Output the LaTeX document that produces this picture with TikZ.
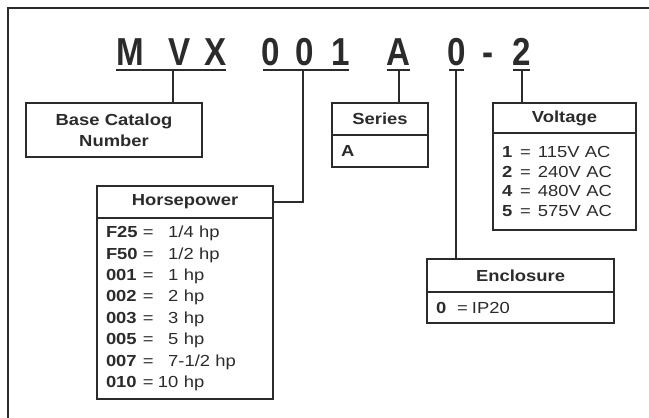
\documentclass[tikz,border=0pt]{standalone}
\usepackage{fontspec}
\setmainfont{Liberation Sans}[FakeStretch=1.15]
\newfontfamily\codefont{Liberation Sans}[FakeStretch=0.85]
\usepackage{tikz}

\definecolor{inkgray}{HTML}{2B2B2B}

\newcommand{\hprow}[2]{\makebox[37pt][l]{\bfseries #1}\makebox[15pt][l]{=}#2}
\newcommand{\voltrow}[2]{\makebox[18pt][l]{\bfseries #1}\makebox[18pt][l]{=}#2}

\tikzset{
    code/.style={anchor=base, inner sep=0pt, text=inkgray, font=\codefont\fontsize{39}{39}\selectfont\bfseries},
    uline/.style={draw=inkgray, line width=2.8pt},
    link/.style={draw=inkgray, line width=1.3pt},
    hdr/.style={draw=inkgray, line width=1.2pt, inner sep=0pt, align=center, text=inkgray, font=\fontsize{16}{21}\selectfont\bfseries},
    body/.style={draw=inkgray, line width=1.2pt, inner xsep=9pt, inner ysep=0pt, align=left, text=inkgray, font=\fontsize{16}{19.7}\selectfont}
}

\begin{document}
\begin{tikzpicture}[x=1pt, y=-1pt]
        \useasboundingbox (0,0) rectangle (649,418);

        % Frame
        \draw[inkgray, line width=1.6pt] (8,418) -- (8,8) -- (649,8);

        % Catalog code
        \node[code] (cM) at (130.5,65) {M};
        \node[code] (cV) at (180,65) {V};
        \node[code] (cX) at (215.5,65) {X};
        \node[code] (c0a) at (270.5,65) {0};
        \node[code] (c0b) at (305,65) {0};
        \node[code] (c1) at (340.5,65) {1};
        \node[code] (cA) at (398.5,65) {A};
        \node[code] (c0c) at (456.5,65) {0};
        \node[code] (cdash) at (488,65) {-};
        \node[code] (c2) at (521.5,65) {2};

        % Underlines
        \draw[uline] (116,70) -- (226,70);
        \draw[uline] (263,70) -- (349,70);
        \draw[uline] (387,70) -- (410,70);
        \draw[uline] (449,70) -- (464,70);
        \draw[uline] (513,70) -- (530,70);

        \coordinate (umvx) at (173,70);
        \coordinate (u001) at (303,70);
        \coordinate (useries) at (399,70);
        \coordinate (uencl) at (456,70);
        \coordinate (uvolt) at (522,70);

        % Boxes
        \node[hdr, minimum width=176pt, minimum height=54pt] (base) at (114,130) {Base Catalog\\Number};

        \node[hdr, minimum width=96pt, minimum height=32pt] (series) at (380,119) {Series};
        \node[body, text width=78pt, minimum height=32pt] (serieslist) at (380,151) {\textbf{A}};

        \node[hdr, minimum width=143pt, minimum height=30pt] (volt) at (564.5,118) {Voltage};
        \node[body, text width=125pt, minimum height=97pt] (voltlist) at (564.5,181.5) {%
            \voltrow{1}{115V AC}\\
            \voltrow{2}{240V AC}\\
            \voltrow{4}{480V AC}\\
            \voltrow{5}{575V AC}};

        \node[hdr, minimum width=176pt, minimum height=32pt] (hp) at (185,202) {Horsepower};
        \node[body, text width=158pt, minimum height=181pt, font=\fontsize{16}{21.4}\selectfont] (hplist) at (185,308.5) {%
            \hprow{F25}{\hphantom{0}1/4 hp}\\
            \hprow{F50}{\hphantom{0}1/2 hp}\\
            \hprow{001}{\hphantom{0}1 hp}\\
            \hprow{002}{\hphantom{0}2 hp}\\
            \hprow{003}{\hphantom{0}3 hp}\\
            \hprow{005}{\hphantom{0}5 hp}\\
            \hprow{007}{\hphantom{0}7-1/2 hp}\\
            \hprow{010}{10 hp}};

        \node[hdr, minimum width=187pt, minimum height=33pt] (encl) at (520.5,275.5) {Enclosure};
        \node[body, text width=169pt, minimum height=31pt] (encllist) at (520.5,307.5) {\makebox[21pt][l]{\bfseries 0}\makebox[15pt][l]{=}IP20};

        % Links
        \draw[link] (umvx) -- (umvx |- base.north);
        \draw[link] (u001) -- (u001 |- hp.east) -- (hp.east);
        \draw[link] (useries) -- (useries |- series.north);
        \draw[link] (uencl) -- (uencl |- encl.north);
        \draw[link] (uvolt) -- (uvolt |- volt.north);
    \end{tikzpicture}
\end{document}
